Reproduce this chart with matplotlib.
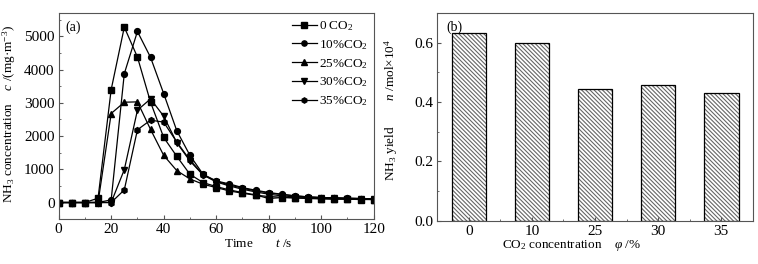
import matplotlib
matplotlib.use("Agg")
import matplotlib.pyplot as plt
from matplotlib.ticker import MultipleLocator, FixedLocator, FormatStrFormatter

plt.rcParams['font.family'] = ['Liberation Serif', 'DejaVu Serif']
plt.rcParams['mathtext.fontset'] = 'custom'
plt.rcParams['mathtext.rm'] = 'Liberation Serif'
plt.rcParams['mathtext.it'] = 'Liberation Serif:italic'
plt.rcParams['font.size'] = 9.5
plt.rcParams['hatch.linewidth'] = 0.8

# ---- data ----
time = [0, 5, 10, 15, 20, 25, 30, 35, 40, 45, 50, 55, 60, 65, 70, 75, 80, 85, 90, 95, 100, 105, 110, 115, 120]
c_0 = [0, 0, 0, 130, 3400, 5280, 4380, 3020, 1960, 1390, 850, 600, 480, 380, 300, 230, 120, 150, 140, 120, 110, 100, 100, 90, 90]
c_10 = [0, 0, 0, 0, 80, 3880, 5150, 4370, 3280, 2160, 1420, 850, 650, 560, 450, 370, 300, 250, 200, 170, 150, 140, 130, 120, 110]
c_25 = [0, 0, 0, 0, 2680, 3020, 3030, 2200, 1420, 960, 710, 550, 450, 350, 280, 220, 180, 160, 140, 130, 120, 110, 100, 100, 90]
c_30 = [0, 0, 0, 0, 0, 990, 2780, 3120, 2600, 1800, 1250, 830, 620, 500, 400, 320, 250, 200, 170, 150, 140, 130, 120, 110, 100]
c_35 = [0, 0, 0, 0, 0, 380, 2190, 2480, 2420, 1820, 1280, 840, 640, 530, 430, 350, 290, 240, 200, 170, 150, 140, 130, 120, 110]
series_labels = ['0 CO$_2$', '10%CO$_2$', '25%CO$_2$', '30%CO$_2$', '35%CO$_2$']

co2_cats = ['0', '10', '25', '30', '35']
yield_vals = [0.634, 0.598, 0.445, 0.458, 0.430]

fig = plt.figure(figsize=(7.58, 2.64), dpi=100)
ax1 = fig.add_axes([0.0774, 0.170, 0.4156, 0.780])
ax2 = fig.add_axes([0.577, 0.164, 0.416, 0.787])

spine_col = '#555555'
markers = ['s', 'o', '^', 'v', 'h']
for vals, m, lab in zip([c_0, c_10, c_25, c_30, c_35], markers, series_labels):
    ax1.plot(time, vals, color='black', marker=m, markersize=4.2, linewidth=0.9, label=lab)

ax1.set_xlim(0, 120)
ax1.set_ylim(-500, 5700)
ax1.xaxis.set_major_locator(MultipleLocator(20))
ax1.xaxis.set_minor_locator(MultipleLocator(10))
ax1.yaxis.set_major_locator(MultipleLocator(1000))
ax1.yaxis.set_minor_locator(MultipleLocator(500))
ax1.set_xlabel('Time       $t$ /s')
ax1.xaxis.set_label_coords(0.633, -0.09)
ax1.set_ylabel('NH$_3$ concentration    $c$ /(mg·m$^{-3}$)')
ax1.yaxis.set_label_coords(-0.13, 0.51)
ax1.text(0.02, 0.965, '(a)', transform=ax1.transAxes, va='top', ha='left', fontsize=10)
leg = ax1.legend(loc='upper right', frameon=False, handlelength=1.9, handletextpad=0.15,
                 labelspacing=0.38, borderaxespad=0.05, fontsize=9.5, markerscale=0.9)

x_pos = range(len(co2_cats))
ax2.bar(x_pos, yield_vals, width=0.55, color='white', edgecolor='#666666',
        linewidth=0, hatch='\\' * 8)
ax2.bar(x_pos, yield_vals, width=0.55, fill=False, edgecolor='black', linewidth=0.9)
ax2.set_xlim(-0.5, 4.5)
ax2.set_ylim(0, 0.7)
ax2.set_xticks(list(x_pos))
ax2.set_xticklabels(co2_cats)
ax2.xaxis.set_minor_locator(FixedLocator([0.5, 1.5, 2.5, 3.5]))
ax2.yaxis.set_major_locator(MultipleLocator(0.2))
ax2.yaxis.set_minor_locator(MultipleLocator(0.1))
ax2.yaxis.set_major_formatter(FormatStrFormatter('%.1f'))
ax2.set_xlabel('CO$_2$ concentration    $\\varphi$ /%')
ax2.xaxis.set_label_coords(0.427, -0.085)
ax2.set_ylabel('NH$_3$ yield        $n$ /mol×10$^4$')
ax2.yaxis.set_label_coords(-0.118, 0.535)
ax2.text(0.03, 0.965, '(b)', transform=ax2.transAxes, va='top', ha='left', fontsize=10)

for ax in (ax1, ax2):
    for s in ax.spines.values():
        s.set_color(spine_col)
        s.set_linewidth(0.8)
    ax.tick_params(which='both', direction='in', color=spine_col, labelsize=11, pad=3)
    ax.tick_params(which='major', length=3)
    ax.tick_params(which='minor', length=1.5)
    ax.tick_params(top=False, right=False)

fig.savefig('out.png', dpi=100)
